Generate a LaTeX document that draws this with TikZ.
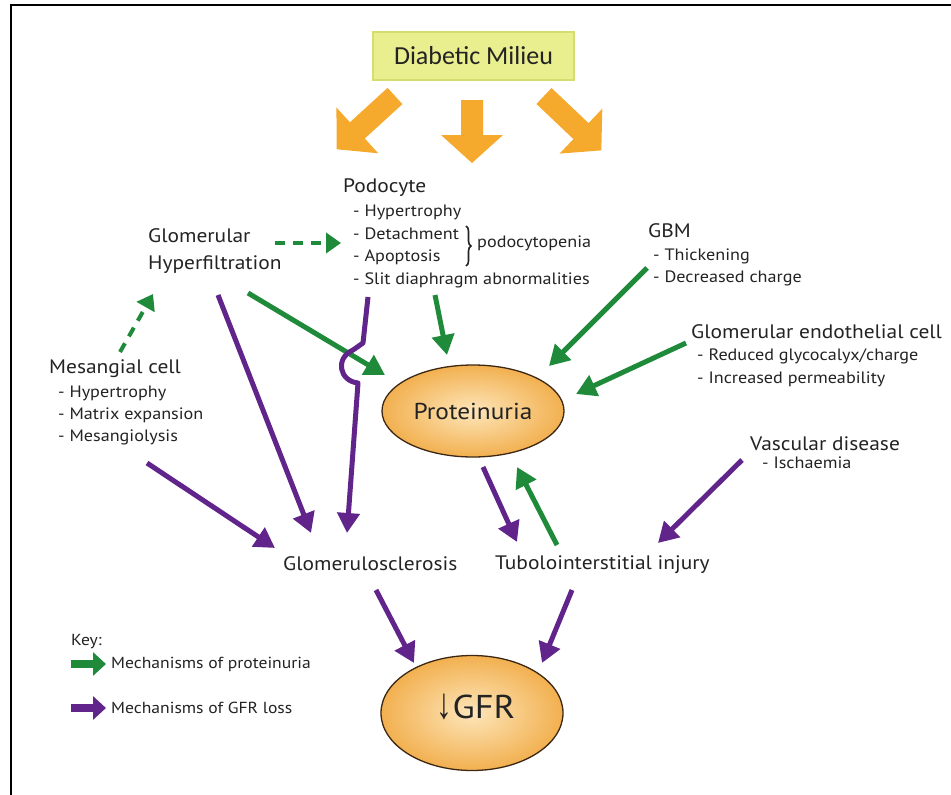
\documentclass[tikz,border=0pt]{standalone}
\usepackage{fontspec}
\setmainfont{PT Sans}[FakeStretch=1.1]
\newfontfamily\calfont{Carlito}
\newfontfamily\arrowfont{Liberation Sans}
\usetikzlibrary{arrows.meta,decorations.pathreplacing,shapes.geometric}

\definecolor{pgreen}{RGB}{30,138,58}
\definecolor{ppurple}{RGB}{96,36,138}
\definecolor{porange}{RGB}{245,170,45}
\definecolor{milieu}{RGB}{233,238,142}
\definecolor{milieuedge}{RGB}{214,220,112}
\definecolor{txt}{RGB}{35,35,35}
\definecolor{blobin}{RGB}{253,230,186}
\definecolor{blobout}{RGB}{242,176,80}
\definecolor{blobedge}{RGB}{60,40,20}

% thick block arrow: tail point, rotation, length
\newcommand\orangearrow[3]{%
  \begin{scope}[shift={#1},rotate=#2]
    \fill[porange] (0,-11) -- ({#3-28},-11) -- ({#3-28},-31) -- (#3,0)
      -- ({#3-28},31) -- ({#3-28},11) -- (0,11) -- cycle;
  \end{scope}}

\begin{document}
\begin{tikzpicture}[x=1pt,y=-1pt,
  lbl/.style={anchor=base west, inner sep=0pt, text=txt, font=\fontsize{19.5}{22}\selectfont},
  sub/.style={anchor=base west, inner sep=0pt, text=txt, font=\fontsize{16.5}{19}\selectfont},
  keytext/.style={anchor=west, inner sep=0pt, text=txt, font=\fontsize{16}{18}\selectfont},
  blob/.style={ellipse, draw=blobedge, line width=1.3pt, inner color=blobin, outer color=blobout,
    text=txt, inner sep=0pt},
  garrow/.style={draw=pgreen, line width=5pt, -{Triangle[length=20pt,width=22pt]}},
  parrow/.style={draw=ppurple, line width=5pt, line join=round, -{Triangle[length=20pt,width=22pt]}},
  gdash/.style={draw=pgreen, line width=4pt, dash pattern=on 10pt off 8pt,
    -{Triangle[length=15pt,width=20pt]}},
  keyarrow/.style={line width=8pt, -{Triangle[length=13pt,width=23pt]}}
]
\useasboundingbox (0,0) rectangle (951,795);
\fill[white] (0,0) rectangle (951,795);

% frame
\draw[line width=2.5pt, line cap=rect] (951,5) -- (11,5) -- (11,795);

% source box and its three block arrows
\node[draw=milieuedge, fill=milieu, line width=1.5pt, minimum width=201pt, minimum height=48pt,
  text=txt, font=\calfont\fontsize{26}{28}\selectfont] (milieu) at (473.5,56) {Diabetic Milieu};
\orangearrow{(395,96)}{-137.6}{79}
\orangearrow{(472,100)}{-90}{63}
\orangearrow{(544,96)}{-43.5}{79}

% podocyte
\node[lbl] (podo) at (343,192) {Podocyte};
\node[sub] (podo1) at (353,216) {- Hypertrophy};
\node[sub] (podo2) at (353,239) {- Detachment};
\node[sub] (podo3) at (353,261) {- Apoptosis};
\node[sub] (podo4) at (353,284) {- Slit diaphragm abnormalities};
\draw[txt, line width=1.6pt, decorate, decoration={brace, amplitude=5pt}] (466,226) -- (466,266);
\node[sub] (penia) at (477,247) {podocytopenia};

% glomerular hyperfiltration
\node[lbl] (hf1) at (148,242) {Glomerular};
\node[lbl] (hf2) at (148,269) {Hyperfiltration};

% GBM
\node[lbl] (gbm) at (648,237) {GBM};
\node[sub] (gbm1) at (653,260) {- Thickening};
\node[sub] (gbm2) at (653,282) {- Decreased charge};

% endothelial cell
\node[lbl] (gec) at (691,338) {Glomerular endothelial cell};
\node[sub] (gec1) at (697,360) {- Reduced glycocalyx/charge};
\node[sub] (gec2) at (697,383) {- Increased permeability};

% mesangial cell
\node[lbl] (mes) at (49,373) {Mesangial cell};
\node[sub] (mes1) at (58,397) {- Hypertrophy};
\node[sub] (mes2) at (58,419) {- Matrix expansion};
\node[sub] (mes3) at (58,441) {- Mesangiolysis};

% vascular disease
\node[lbl] (vasc) at (750,450) {Vascular disease};
\node[sub] (vasc1) at (762,468) {- Ischaemia};

% outcomes
\node[blob, minimum width=182pt, minimum height=92pt, font=\fontsize{23}{25}\selectfont]
  (prot) at (473,411) {Proteinuria};
\node[lbl] (gs) at (283,570) {Glomerulosclerosis};
\node[lbl] (ti) at (495,569) {Tubolointerstitial injury};
\node[blob, minimum width=182pt, minimum height=115pt] (gfr) at (472,713) {};
\node[inner sep=0pt, text=txt, font=\fontsize{33}{35}\selectfont] (gfrtext) at (476,707)
  {\scalebox{1.05}[1.45]{\arrowfont\fontsize{30}{32}\selectfont ↓}GFR};

% connector end points
\coordinate (hf-a) at (248,293);   \coordinate (prot-a) at (385,375);
\coordinate (podo-a) at (435,295); \coordinate (prot-b) at (447,355);
\coordinate (gbm-a) at (647,268);  \coordinate (prot-c) at (549,366);
\coordinate (gec-a) at (686,343);  \coordinate (prot-d) at (576,394);
\coordinate (ti-a) at (557,545);   \coordinate (prot-e) at (517,467);
\coordinate (prot-f) at (483,467); \coordinate (ti-b) at (517,542);
\coordinate (hf-b) at (218,295);   \coordinate (gs-a) at (311,533);
\coordinate (podo-b) at (368,297); \coordinate (gs-b) at (347,533);
\coordinate (mes-a) at (147,463);  \coordinate (gs-c) at (275,548);
\coordinate (gs-d) at (376,590);   \coordinate (gfr-a) at (414,663);
\coordinate (ti-c) at (572,590);   \coordinate (gfr-b) at (542,663);
\coordinate (vasc-a) at (742,460); \coordinate (ti-d) at (658,543);
\coordinate (hf-c) at (275,243);   \coordinate (podo-c) at (341,243);
\coordinate (mes-b) at (120,352);  \coordinate (hf-d) at (153,294);

% mechanisms of proteinuria
\draw[garrow] (hf-a) -- (prot-a);
\draw[garrow] (podo-a) -- (prot-b);
\draw[garrow] (gbm-a) -- (prot-c);
\draw[garrow] (gec-a) -- (prot-d);
\draw[garrow] (ti-a) -- (prot-e);
\draw[gdash] (hf-c) -- (podo-c);
\draw[gdash] (mes-b) -- (hf-d);

% mechanisms of GFR loss
\draw[parrow] (prot-f) -- (ti-b);
\draw[parrow] (hf-b) -- (gs-a);
\draw[parrow] (podo-b) -- (363,343) -- (353,350)
  .. controls (335,358) and (339,381) .. (358,383) -- (gs-b);
\draw[parrow] (mes-a) -- (gs-c);
\draw[parrow] (gs-d) -- (gfr-a);
\draw[parrow] (ti-c) -- (gfr-b);
\draw[parrow] (vasc-a) -- (ti-d);

% key
\node[keytext] (key) at (71,642) {Key:};
\coordinate (kg-a) at (71,664);  \coordinate (kg-b) at (106,664);
\coordinate (kp-a) at (71,708);  \coordinate (kp-b) at (106,708);
\draw[keyarrow, draw=pgreen] (kg-a) -- (kg-b);
\draw[keyarrow, draw=ppurple] (kp-a) -- (kp-b);
\node[keytext] (key1) at (111,664) {Mechanisms of proteinuria};
\node[keytext] (key2) at (111,708) {Mechanisms of GFR loss};
\end{tikzpicture}
\end{document}
